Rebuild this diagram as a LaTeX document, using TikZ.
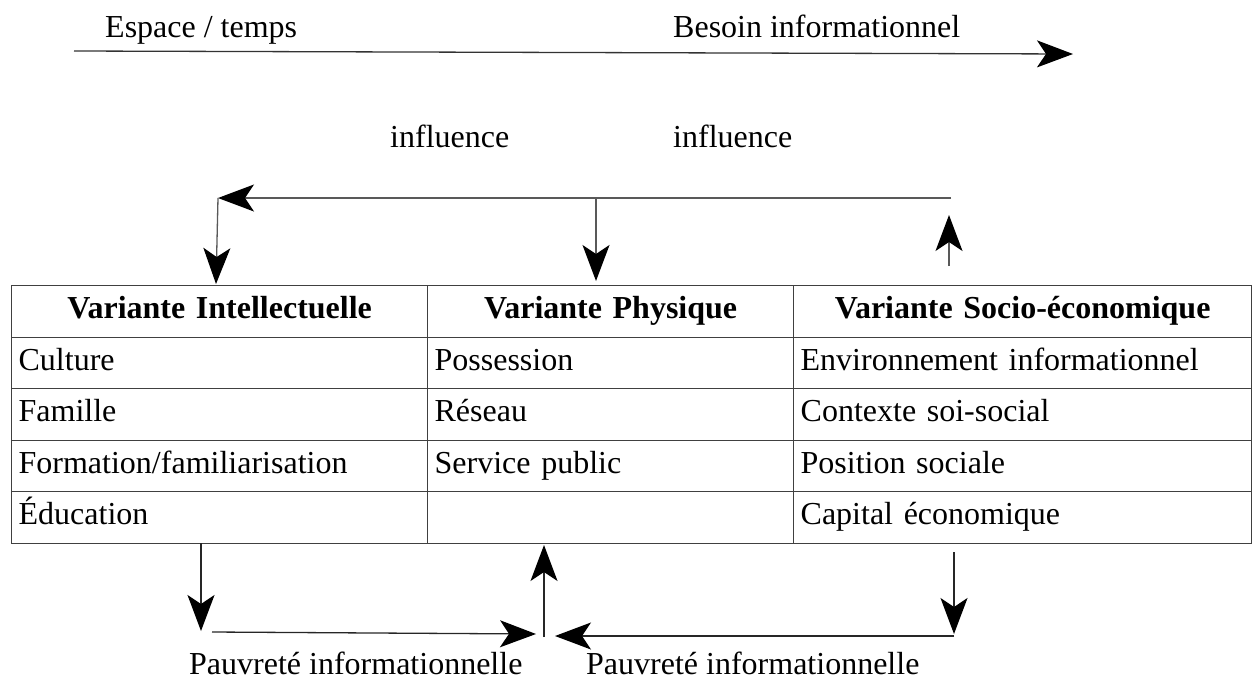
\documentclass[tikz,border=0pt]{standalone}
\usepackage{fontspec}
\setmainfont{Liberation Serif}
\usetikzlibrary{arrows.meta}
\begin{document}
\begin{tikzpicture}[x=1pt,y=-1pt,
  txt/.style={font=\fontsize{32}{38}\selectfont, inner sep=0pt, anchor=base west},
  cell/.style={draw=black!75, line width=1.3pt, rectangle, inner xsep=7pt, inner ysep=0pt,
    minimum height=51.5pt, text height=22pt, text depth=7pt,
    font=\fontsize{32}{38}\selectfont, anchor=north west, align=left},
  head/.style={cell, align=center, font=\fontsize{32}{38}\selectfont\bfseries},
  cA/.style={text width=402pt},
  cB/.style={text width=352pt},
  cC/.style={text width=444pt},
  conn/.style={draw=black!65, line width=1.3pt, -{Stealth[length=36pt,width=27pt,inset=9pt,black]}},
]
\useasboundingbox (0,0) rectangle (1259,686);

% top axis
\coordinate (ta) at (74,51);
\coordinate (tb) at (1073,54);
\draw[conn, draw=black!80] (ta) -- (tb);
\node[txt] (espace) at (105,37) {Espace / temps};
\node[txt] (besoin) at (673,37) {Besoin informationnel};

% influence labels
\node[txt] (inf1) at (390,147) {influence};
\node[txt] (inf2) at (673,147) {influence};

% table
\node[head,cA] (h1) at (11,285) {Variante Intellectuelle};
\node[head,cB] (h2) at (427,285) {Variante Physique};
\node[head,cC] (h3) at (793,285) {Variante Socio-économique};

\node[cell,cA] (a1) at (11,336.5) {Culture};
\node[cell,cB] (b1) at (427,336.5) {Possession};
\node[cell,cC] (c1) at (793,336.5) {Environnement informationnel};

\node[cell,cA] (a2) at (11,388) {Famille};
\node[cell,cB] (b2) at (427,388) {Réseau};
\node[cell,cC] (c2) at (793,388) {Contexte soi-social};

\node[cell,cA] (a3) at (11,439.5) {Formation/familiarisation};
\node[cell,cB] (b3) at (427,439.5) {Service public};
\node[cell,cC] (c3) at (793,439.5) {Position sociale};

\node[cell,cA] (a4) at (11,491) {Éducation};
\node[cell,cB] (b4) at (427,491) {};
\node[cell,cC] (c4) at (793,491) {Capital économique};

% influence connectors
\coordinate (ir) at (951,198);
\coordinate (il) at (218,198);
\coordinate (im) at (596,198);
\coordinate (h1in) at (216,284);
\coordinate (h2in) at (596,281);
\coordinate (rup0) at (949,266);
\coordinate (rup1) at (949,215);
\draw[conn] (ir) -- (il);
\draw[conn] (il) -- (h1in);
\draw[conn] (im) -- (h2in);
\draw[conn] (rup0) -- (rup1);

% bottom connectors
\coordinate (bl0) at (201,543);
\coordinate (bl1) at (201,631);
\coordinate (bh0) at (212,632);
\coordinate (bh1) at (536,634);
\coordinate (bm0) at (544,637);
\coordinate (bm1) at (544,545);
\coordinate (br0) at (954,552);
\coordinate (br1) at (954,634);
\coordinate (bk0) at (954,636);
\coordinate (bk1) at (555,636);
\draw[conn, draw=black!85] (bl0) -- (bl1);
\draw[conn, draw=black!85] (bh0) -- (bh1);
\draw[conn, draw=black!85] (bm0) -- (bm1);
\draw[conn, draw=black!85] (br0) -- (br1);
\draw[conn, draw=black!85] (bk0) -- (bk1);

\node[txt] (p1) at (189,674) {Pauvreté informationnelle};
\node[txt] (p2) at (586,674) {Pauvreté informationnelle};
\end{tikzpicture}
\end{document}
